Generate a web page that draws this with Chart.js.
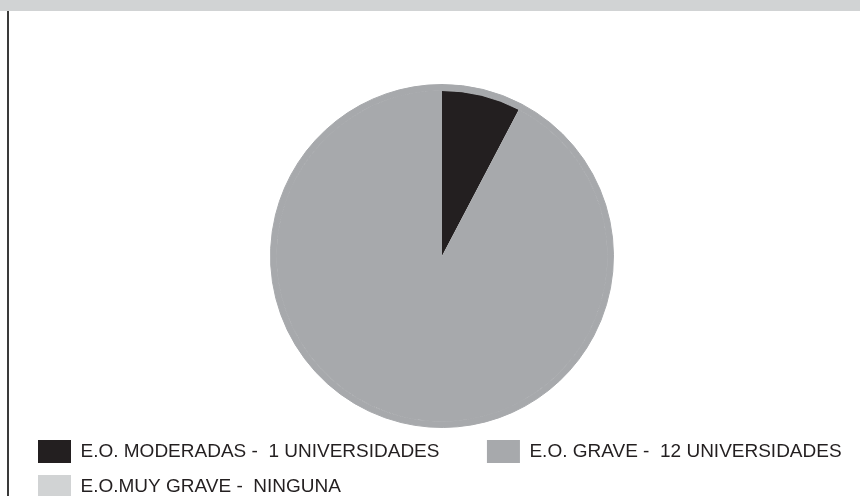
<!DOCTYPE html>
<html>
<head>
<meta charset="utf-8">
<script src="https://cdn.jsdelivr.net/npm/chart.js@4/dist/chart.umd.min.js"></script>
<style>
  html, body { margin: 0; padding: 0; background: #ffffff; overflow: hidden; width: 860px; height: 496px; }
  #band { position: absolute; left: 0; top: 0; width: 860px; height: 11px; background: #d1d3d4; }
  #rule { position: absolute; left: 7px; top: 11px; width: 2px; height: 485px; background: #3a3a3a; }
  #wrap { position: absolute; left: 0; top: 0; width: 860px; height: 508px; }
</style>
</head>
<body>
<div id="band"></div>
<div id="rule"></div>
<div id="wrap"><canvas id="c" width="860" height="508"></canvas></div>
<script>
const categories = ["E.O. MODERADAS -  1 UNIVERSIDADES", "E.O. GRAVE -  12 UNIVERSIDADES", "E.O.MUY GRAVE -  NINGUNA"];
const universidades = [1, 12, 0];
const colores = ["#231f20", "#a7a9ac", "#d1d3d4"];

const trailPad = ["\u00a0\u00a0\u00a0\u00a0\u00a0\u00a0\u2009", "", ""];

new Chart(document.getElementById('c'), {
  type: 'pie',
  data: {
    labels: categories,
    datasets: [
      {
        data: universidades,
        backgroundColor: universidades.map(() => colores[1]),
        borderColor: universidades.map(() => colores[1]),
        borderWidth: 1,
        weight: 6
      },
      {
        data: universidades,
        backgroundColor: colores,
        borderWidth: 0,
        weight: 165
      }
    ]
  },
  options: {
    responsive: false,
    animation: false,
    events: [],
    devicePixelRatio: 1,
    hoverOffset: 0,
    layout: { padding: { top: 84, left: 26, right: 2, bottom: 0 } },
    plugins: {
      tooltip: { enabled: false },
      legend: {
        position: 'bottom',
        align: 'start',
        labels: {
          boxWidth: 33,
          boxHeight: 23,
          padding: 12,
          color: '#231f20',
          font: { family: "'Liberation Sans', Arial, sans-serif", size: 19 },
          generateLabels: (chart) => categories.map((t, i) => ({
            text: t + trailPad[i],
            fillStyle: colores[i],
            strokeStyle: colores[i],
            lineWidth: 0,
            fontColor: '#231f20',
            hidden: false,
            index: i
          }))
        }
      }
    }
  }
});
</script>
</body>
</html>
